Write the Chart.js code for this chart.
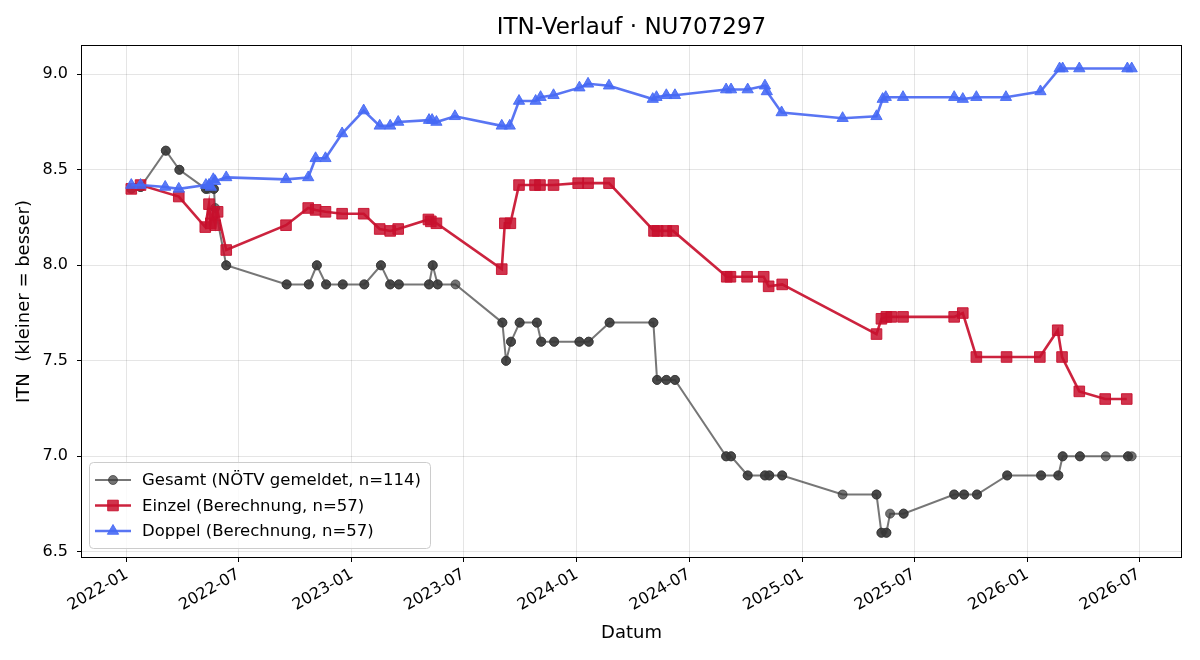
<!DOCTYPE html>
<html>
<head>
<meta charset="utf-8">
<script src="https://cdn.jsdelivr.net/npm/chart.js@4.4.1/dist/chart.umd.min.js"></script>
<style>
html, body { margin: 0; padding: 0; background: #fff; }
canvas { display: block; }
</style>
</head>
<body>
<canvas id="itnChart" width="1200" height="660"></canvas>
<script>
// --- Daten ---
const gesamtDates = [
  '2022-01-08', '2022-01-23', '2022-03-05', '2022-03-27', '2022-05-09', '2022-05-13', '2022-05-22', '2022-05-24',
  '2022-06-11', '2022-09-17', '2022-10-23', '2022-11-05', '2022-11-20', '2022-12-17', '2023-01-21', '2023-02-17',
  '2023-03-04', '2023-03-18', '2023-05-06', '2023-05-12', '2023-05-20', '2023-06-18', '2023-09-02', '2023-09-08',
  '2023-09-16', '2023-09-30', '2023-10-28', '2023-11-04', '2023-11-25', '2024-01-05', '2024-01-20', '2024-02-23',
  '2024-05-04', '2024-05-10', '2024-05-25', '2024-06-08', '2024-08-30', '2024-09-07', '2024-10-04', '2024-11-01',
  '2024-11-08', '2024-11-29', '2025-03-07', '2025-05-01', '2025-05-09', '2025-05-17', '2025-05-23', '2025-06-14',
  '2025-09-04', '2025-09-20', '2025-10-11', '2025-11-29', '2026-01-23', '2026-02-20', '2026-02-27', '2026-03-27',
  '2026-05-08', '2026-06-13', '2026-06-19'
];
const gesamtValues = [
  8.40, 8.41, 8.60, 8.50, 8.40, 8.40, 8.40, 8.30,
  8.00, 7.90, 7.90, 8.00, 7.90, 7.90, 7.90, 8.00,
  7.90, 7.90, 7.90, 8.00, 7.90, 7.90, 7.70, 7.50,
  7.60, 7.70, 7.70, 7.60, 7.60, 7.60, 7.60, 7.70,
  7.70, 7.40, 7.40, 7.40, 7.00, 7.00, 6.90, 6.90,
  6.90, 6.90, 6.80, 6.80, 6.60, 6.60, 6.70, 6.70,
  6.80, 6.80, 6.80, 6.90, 6.90, 6.90, 7.00, 7.00,
  7.00, 7.00, 7.00
];
// Meldungen pro Tag (2 = zwei gleiche Einträge, Punkt wirkt dunkler)
const gesamtCount = [
  1, 2, 2, 2, 2, 1, 2, 1,
  2, 2, 2, 2, 2, 2, 2, 2,
  2, 2, 2, 2, 2, 1, 2, 2,
  2, 2, 2, 2, 2, 2, 2, 2,
  2, 2, 2, 2, 2, 2, 2, 2,
  2, 2, 1, 2, 2, 2, 1, 2,
  2, 2, 2, 2, 2, 2, 2, 2,
  1, 2, 1
];

const einzelDates = [
  '2022-01-08', '2022-01-23', '2022-03-26', '2022-05-08', '2022-05-14', '2022-05-17', '2022-05-20', '2022-05-24',
  '2022-05-28', '2022-06-11', '2022-09-16', '2022-10-22', '2022-11-03', '2022-11-19', '2022-12-16', '2023-01-20',
  '2023-02-15', '2023-03-04', '2023-03-17', '2023-05-05', '2023-05-09', '2023-05-18', '2023-09-01', '2023-09-06',
  '2023-09-15', '2023-09-29', '2023-10-25', '2023-11-02', '2023-11-24', '2024-01-03', '2024-01-19', '2024-02-22',
  '2024-05-05', '2024-05-11', '2024-05-25', '2024-06-05', '2024-08-31', '2024-09-06', '2024-10-03', '2024-10-30',
  '2024-11-07', '2024-11-29', '2025-05-01', '2025-05-09', '2025-05-17', '2025-05-25', '2025-06-13', '2025-09-04',
  '2025-09-18', '2025-10-10', '2025-11-28', '2026-01-21', '2026-02-19', '2026-02-26', '2026-03-26', '2026-05-07',
  '2026-06-11'
];
const einzelValues = [
  8.40, 8.42, 8.36, 8.20, 8.32, 8.22, 8.27, 8.21,
  8.28, 8.08, 8.21, 8.30, 8.29, 8.28, 8.27, 8.27,
  8.19, 8.18, 8.19, 8.24, 8.23, 8.22, 7.98, 8.22,
  8.22, 8.42, 8.42, 8.42, 8.42, 8.43, 8.43, 8.43,
  8.18, 8.18, 8.18, 8.18, 7.94, 7.94, 7.94, 7.94,
  7.89, 7.90, 7.64, 7.72, 7.73, 7.73, 7.73, 7.73,
  7.75, 7.52, 7.52, 7.52, 7.66, 7.52, 7.34, 7.30,
  7.30
];

const doppelDates = [
  '2022-01-08', '2022-01-23', '2022-03-04', '2022-03-26', '2022-05-09', '2022-05-14', '2022-05-17', '2022-05-21',
  '2022-05-24', '2022-06-11', '2022-09-16', '2022-10-22', '2022-11-03', '2022-11-19', '2022-12-16', '2023-01-20',
  '2023-02-15', '2023-03-04', '2023-03-17', '2023-05-06', '2023-05-11', '2023-05-18', '2023-06-17', '2023-09-01',
  '2023-09-14', '2023-09-29', '2023-10-26', '2023-11-03', '2023-11-24', '2024-01-05', '2024-01-19', '2024-02-22',
  '2024-05-03', '2024-05-09', '2024-05-25', '2024-06-08', '2024-08-30', '2024-09-07', '2024-10-04', '2024-11-01',
  '2024-11-04', '2024-11-28', '2025-03-07', '2025-05-01', '2025-05-11', '2025-05-16', '2025-06-13', '2025-09-04',
  '2025-09-18', '2025-10-10', '2025-11-27', '2026-01-22', '2026-02-22', '2026-02-27', '2026-03-26', '2026-06-12',
  '2026-06-19'
];
const doppelValues = [
  8.42, 8.42, 8.41, 8.40, 8.42, 8.42, 8.41, 8.45,
  8.44, 8.46, 8.45, 8.46, 8.56, 8.56, 8.69, 8.81,
  8.73, 8.73, 8.75, 8.76, 8.76, 8.75, 8.78, 8.73,
  8.73, 8.86, 8.86, 8.88, 8.89, 8.93, 8.95, 8.94,
  8.87, 8.88, 8.89, 8.89, 8.92, 8.92, 8.92, 8.94,
  8.91, 8.80, 8.77, 8.78, 8.87, 8.88, 8.88, 8.88,
  8.87, 8.88, 8.88, 8.91, 9.03, 9.03, 9.03, 9.03,
  9.03
];

const chartTitle = 'ITN-Verlauf · NU707297';
const seriesLabels = ['Gesamt (NÖTV gemeldet, n=114)', 'Einzel (Berechnung, n=57)', 'Doppel (Berechnung, n=57)'];
const xTickDates = ['2022-01-01', '2022-07-01', '2023-01-01', '2023-07-01', '2024-01-01',
                    '2024-07-01', '2025-01-01', '2025-07-01', '2026-01-01', '2026-07-01'];
const yTicks = [6.5, 7.0, 7.5, 8.0, 8.5, 9.0];
const xRange = ['2021-10-20', '2026-09-07'];
const yRange = [6.473, 9.148];

// --- Farben / Stil ---
const FONT = 'DejaVu Sans';
const styles = [
  { line: 'rgba(60,60,60,0.7)', fill: 'rgba(55,55,55,0.7)', edge: 'rgba(55,55,55,0.7)', marker: 'circle', r: 4.5, width: 2 },
  { line: 'rgba(200,16,46,0.92)', fill: 'rgba(200,16,46,0.85)', edge: 'rgba(200,16,46,0.9)', marker: 'rect', r: 7.5, width: 2.6 },
  { line: 'rgba(75,105,242,0.92)', fill: 'rgba(70,105,245,0.88)', edge: 'rgba(70,105,245,0.9)', marker: 'triangle', r: 6.5, width: 2.6 }
];

function toPoints(dates, values) {
  return dates.map((d, i) => ({ x: Date.parse(d), y: values[i] }));
}

// Gesamt: doppelte Meldungen am selben Tag auch doppelt eintragen
function expandGesamt() {
  const pts = [];
  gesamtDates.forEach((d, i) => {
    for (let k = 0; k < gesamtCount[i]; k++) pts.push({ x: Date.parse(d), y: gesamtValues[i] });
  });
  return pts;
}

function makeDataset(idx, data, order) {
  const s = styles[idx];
  return {
    label: seriesLabels[idx],
    data: data,
    borderColor: s.line,
    borderWidth: s.width,
    backgroundColor: s.fill,
    pointBackgroundColor: s.fill,
    pointBorderColor: s.edge,
    pointBorderWidth: 1,
    pointStyle: s.marker,
    pointRadius: s.r,
    pointHoverRadius: s.r,
    tension: 0,
    fill: false,
    order: order
  };
}

function drawMarker(ctx, style, x, y, r, fill, stroke) {
  ctx.beginPath();
  if (style === 'circle') {
    ctx.arc(x, y, r, 0, Math.PI * 2);
  } else if (style === 'rect') {
    const s = r * Math.SQRT1_2;
    ctx.rect(x - s, y - s, 2 * s, 2 * s);
  } else {
    ctx.moveTo(x, y - r);
    ctx.lineTo(x + r * 0.866, y + r / 2);
    ctx.lineTo(x - r * 0.866, y + r / 2);
    ctx.closePath();
  }
  ctx.fillStyle = fill;
  ctx.fill();
  ctx.strokeStyle = stroke;
  ctx.lineWidth = 1;
  ctx.stroke();
}

// Titel, Rahmen um die Zeichenfläche + Legende unten links (wie matplotlib)
const framePlugin = {
  id: 'frame',
  afterDatasetsDraw(chart) {
    const { ctx, chartArea: a } = chart;
    ctx.save();
    ctx.strokeStyle = '#000';
    ctx.lineWidth = 1;
    ctx.strokeRect(Math.round(a.left) - 0.5, Math.round(a.top) - 0.5,
                   Math.round(a.right - a.left) + 1, Math.round(a.bottom - a.top) + 1);

    // Titel über der Achsenmitte
    ctx.font = '23px "' + FONT + '"';
    ctx.fillStyle = '#000';
    ctx.textAlign = 'center';
    ctx.textBaseline = 'middle';
    ctx.fillText(chartTitle, (a.left + a.right) / 2, 28);

    // Legende
    const bx = a.left + 7, by = a.bottom - 95, bw = 341, bh = 86;
    ctx.beginPath();
    ctx.roundRect(bx + 0.5, by + 0.5, bw, bh, 4);
    ctx.fillStyle = 'rgba(255,255,255,0.8)';
    ctx.fill();
    ctx.strokeStyle = '#cccccc';
    ctx.stroke();

    ctx.font = '16.5px "' + FONT + '"';
    ctx.textBaseline = 'middle';
    ctx.textAlign = 'left';
    seriesLabels.forEach((lab, i) => {
      const s = styles[i];
      const y = by + 18 + i * 25.5;
      ctx.beginPath();
      ctx.moveTo(bx + 6, y);
      ctx.lineTo(bx + 42, y);
      ctx.strokeStyle = s.line;
      ctx.lineWidth = s.width;
      ctx.stroke();
      drawMarker(ctx, s.marker, bx + 24, y, s.r, s.fill, s.edge);
      ctx.fillStyle = '#000';
      ctx.fillText(lab, bx + 53, y + 1);
    });
    ctx.restore();
  }
};

Chart.defaults.font.family = FONT;
Chart.defaults.color = '#000';

new Chart(document.getElementById('itnChart'), {
  type: 'line',
  data: {
    datasets: [
      makeDataset(0, expandGesamt(), 3),
      makeDataset(1, toPoints(einzelDates, einzelValues), 2),
      makeDataset(2, toPoints(doppelDates, doppelValues), 1)
    ]
  },
  options: {
    responsive: false,
    animation: false,
    devicePixelRatio: 1,
    layout: { padding: { left: 0, right: 19, top: 46, bottom: 0 } },
    plugins: {
      legend: { display: false },
      tooltip: { enabled: false },
      title: { display: false }
    },
    scales: {
      x: {
        type: 'linear',
        min: Date.parse(xRange[0]),
        max: Date.parse(xRange[1]),
        afterBuildTicks: axis => { axis.ticks = xTickDates.map(d => ({ value: Date.parse(d) })); },
        afterFit: axis => { axis.height = 103; },
        grid: { color: 'rgba(0,0,0,0.1)', tickColor: '#000', tickLength: 5, lineWidth: 1 },
        border: { display: false },
        ticks: {
          autoSkip: false,
          minRotation: 30,
          maxRotation: 30,
          padding: 3,
          font: { size: 16 },
          callback: (v, i) => xTickDates[i].slice(0, 7)
        },
        title: { display: true, text: 'Datum', font: { size: 18 }, padding: { top: 0, bottom: 16 } }
      },
      y: {
        type: 'linear',
        min: yRange[0],
        max: yRange[1],
        afterBuildTicks: axis => { axis.ticks = yTicks.map(v => ({ value: v })); },
        afterFit: axis => { axis.width = 82; },
        grid: { color: 'rgba(0,0,0,0.1)', tickColor: '#000', tickLength: 5, lineWidth: 1 },
        border: { display: false },
        ticks: {
          padding: 9,
          font: { size: 16 },
          callback: v => v.toFixed(1)
        },
        title: { display: true, text: 'ITN  (kleiner = besser)', font: { size: 18 }, padding: { top: 14, bottom: 0 } }
      }
    }
  },
  plugins: [framePlugin]
});
</script>
</body>
</html>
